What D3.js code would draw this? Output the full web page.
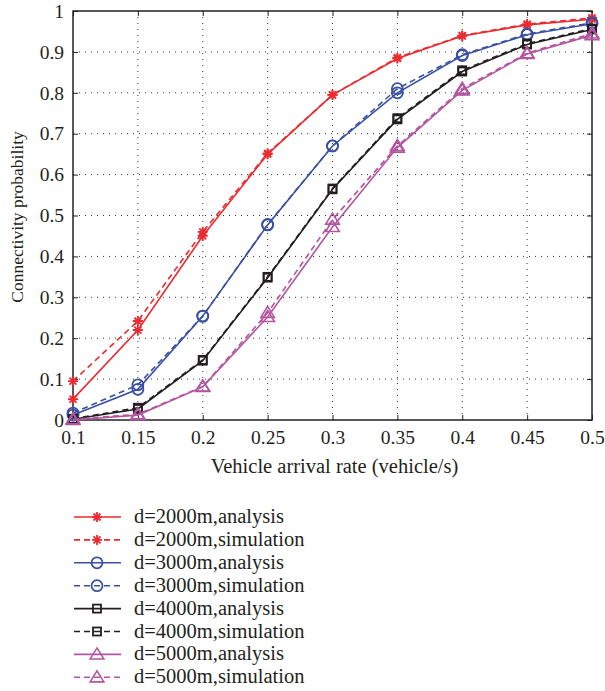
<!DOCTYPE html>
<html><head><meta charset="utf-8">
<script src="https://cdn.jsdelivr.net/npm/d3@7"></script>
<style>body{margin:0;background:#fff}svg{display:block}</style>
</head><body>
<svg id="c" width="605" height="691"></svg>
<script>
const xValues = [0.1,0.15,0.2,0.25,0.3,0.35,0.4,0.45,0.5];
const d2000Analysis = [0.051,0.220,0.450,0.650,0.795,0.884,0.939,0.966,0.980];
const d2000Simulation = [0.095,0.242,0.460,0.652,0.795,0.886,0.940,0.968,0.983];
const d3000Analysis = [0.012,0.075,0.254,0.477,0.670,0.800,0.891,0.942,0.969];
const d3000Simulation = [0.017,0.086,0.254,0.478,0.670,0.810,0.893,0.944,0.971];
const d4000Analysis = [0.002,0.027,0.145,0.348,0.564,0.735,0.852,0.918,0.955];
const d4000Simulation = [0.003,0.030,0.147,0.350,0.566,0.738,0.855,0.920,0.957];
const d5000Analysis = [0.000,0.012,0.081,0.252,0.472,0.666,0.806,0.895,0.941];
const d5000Simulation = [0.002,0.014,0.082,0.262,0.490,0.670,0.810,0.897,0.945];
const xTicks = [0.1,0.15,0.2,0.25,0.3,0.35,0.4,0.45,0.5];
const yTicks = [0,0.1,0.2,0.3,0.4,0.5,0.6,0.7,0.8,0.9,1];

const series = [
  {name:"d=2000m,analysis", vals:d2000Analysis, color:"#ec2a2f", dash:null, marker:"star"},
  {name:"d=2000m,simulation", vals:d2000Simulation, color:"#ec2a2f", dash:"6,4", marker:"star"},
  {name:"d=3000m,analysis", vals:d3000Analysis, color:"#3a50a2", dash:null, marker:"circle"},
  {name:"d=3000m,simulation", vals:d3000Simulation, color:"#3a50a2", dash:"6,4", marker:"circle"},
  {name:"d=4000m,analysis", vals:d4000Analysis, color:"#231f20", dash:null, marker:"square"},
  {name:"d=4000m,simulation", vals:d4000Simulation, color:"#231f20", dash:"6,4", marker:"square"},
  {name:"d=5000m,analysis", vals:d5000Analysis, color:"#b3569f", dash:null, marker:"triangle"},
  {name:"d=5000m,simulation", vals:d5000Simulation, color:"#b3569f", dash:"6,4", marker:"triangle"}
];

const L=73, R=592, T=11, B=420;
const svg = d3.select("#c");
const x = d3.scaleLinear().domain([0.1,0.5]).range([L,R]);
const y = d3.scaleLinear().domain([0,1]).range([B,T]);
const font = "'Liberation Serif','Times New Roman',serif";

// grid
const g = svg.append("g");
g.selectAll(".gx").data(xTicks.slice(1,-1)).enter().append("line")
  .attr("x1",d=>x(d)).attr("x2",d=>x(d)).attr("y1",T).attr("y2",B)
  .attr("stroke","#333").attr("stroke-width",1).attr("stroke-dasharray","1,5");
g.selectAll(".gy").data(yTicks.slice(1,-1)).enter().append("line")
  .attr("y1",d=>y(d)).attr("y2",d=>y(d)).attr("x1",L).attr("x2",R)
  .attr("stroke","#333").attr("stroke-width",1).attr("stroke-dasharray","1,5");

// axes
const xAxis = d3.axisBottom(x).tickValues(xTicks).tickSize(-5).tickPadding(10).tickFormat(d=>d3.format("")(+d.toFixed(2)));
const yAxis = d3.axisLeft(y).tickValues(yTicks).tickSize(-5).tickPadding(9).tickFormat(d=>d3.format("")(+d.toFixed(1)));
const xa = svg.append("g").attr("transform",`translate(0,${B})`).call(xAxis);
const ya = svg.append("g").attr("transform",`translate(${L},0)`).call(yAxis);
const xt = svg.append("g").attr("transform",`translate(0,${T})`).call(d3.axisTop(x).tickValues(xTicks).tickSize(-5).tickFormat(""));
const yr = svg.append("g").attr("transform",`translate(${R},0)`).call(d3.axisRight(y).tickValues(yTicks).tickSize(-5).tickFormat(""));
[xa,ya,xt,yr].forEach(a=>{
  a.select(".domain").remove();
  a.selectAll("line").attr("stroke","#222").attr("stroke-width",1);
  a.selectAll("text").attr("font-family",font).attr("font-size",19.5).attr("fill","#231f20");
});
svg.append("rect").attr("x",L).attr("y",T).attr("width",R-L).attr("height",B-T)
  .attr("fill","none").attr("stroke","#222").attr("stroke-width",1.5);

function marker(sel, type, color){
  if(type==="star"){
    const r=5;
    const p=`M${-r},0L${r},0M0,${-r}L0,${r}M${-r*0.7},${-r*0.7}L${r*0.7},${r*0.7}M${-r*0.7},${r*0.7}L${r*0.7},${-r*0.7}`;
    sel.append("path").attr("d",p).attr("stroke",color).attr("stroke-width",1.8).attr("fill","none");
  } else if(type==="circle"){
    sel.append("circle").attr("r",5.5).attr("fill","none").attr("stroke",color).attr("stroke-width",1.8);
  } else if(type==="square"){
    sel.append("rect").attr("x",-4).attr("y",-4).attr("width",8).attr("height",8).attr("fill","none").attr("stroke",color).attr("stroke-width",1.8);
  } else {
    const s=6.5;
    sel.append("path").attr("d",`M0,${-s}L${s*1.05},${s*0.7}L${-s*1.05},${s*0.7}Z`).attr("fill","none").attr("stroke",color).attr("stroke-width",1.6);
  }
}

const line = d3.line().x((d,i)=>x(xValues[i])).y(d=>y(d));
const plot = svg.append("g");
series.forEach(s=>{
  plot.append("path").datum(s.vals).attr("d",line).attr("fill","none")
    .attr("stroke",s.color).attr("stroke-width",1.6).attr("stroke-dasharray",s.dash);
  s.vals.forEach((v,i)=>{
    const m = plot.append("g").attr("transform",`translate(${x(xValues[i])},${y(v)})`);
    marker(m,s.marker,s.color);
  });
});

// labels
svg.append("text").attr("x",(L+R)/2+2).attr("y",473).attr("text-anchor","middle")
  .attr("font-family",font).attr("font-size",20.5).attr("fill","#231f20")
  .text("Vehicle arrival rate (vehicle/s)");
svg.append("text").attr("transform",`translate(23,217) rotate(-90)`).attr("text-anchor","middle")
  .attr("font-family",font).attr("font-size",17.5).attr("fill","#231f20")
  .text("Connectivity probability");

// legend
const lg = svg.append("g");
series.forEach((s,i)=>{
  const yy = 517 + i*22.9;
  lg.append("line").attr("x1",74).attr("x2",121).attr("y1",yy).attr("y2",yy)
    .attr("stroke",s.color).attr("stroke-width",1.6).attr("stroke-dasharray",s.dash);
  const m = lg.append("g").attr("transform",`translate(97,${yy})`);
  marker(m,s.marker,s.color);
  lg.append("text").attr("x",134).attr("y",yy+6).attr("font-family",font).attr("font-size",20.5)
    .attr("fill","#231f20").text(s.name);
});
</script>
</body></html>
